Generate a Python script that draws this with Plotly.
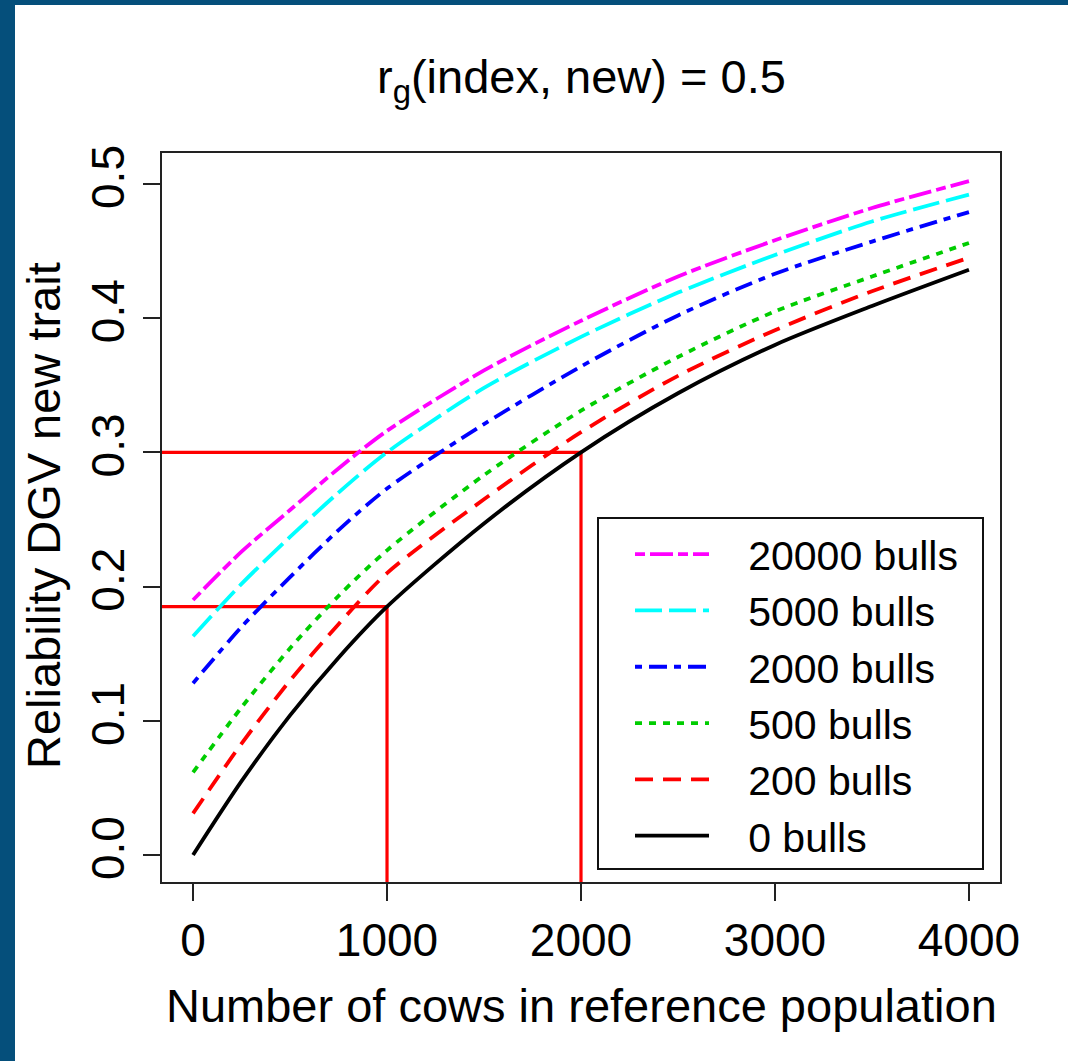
import plotly.graph_objects as go

# ---- data ----
cows = [0, 250, 500, 750, 1000, 1500, 2000, 2500, 3000, 3500, 4000]
rel_20000 = [0.190, 0.226, 0.257, 0.288, 0.316, 0.361, 0.398, 0.431, 0.458, 0.482, 0.502]
rel_5000 = [0.163, 0.202, 0.237, 0.270, 0.300, 0.348, 0.386, 0.419, 0.447, 0.472, 0.492]
rel_2000 = [0.128, 0.170, 0.207, 0.242, 0.273, 0.321, 0.364, 0.402, 0.433, 0.457, 0.479]
rel_500 = [0.0615, 0.110, 0.154, 0.193, 0.227, 0.283, 0.331, 0.371, 0.405, 0.431, 0.456]
rel_200 = [0.031, 0.083, 0.130, 0.172, 0.210, 0.265, 0.315, 0.357, 0.391, 0.420, 0.445]
rel_0 = [0.000, 0.055, 0.104, 0.147, 0.185, 0.247, 0.300, 0.344, 0.380, 0.409, 0.436]

series_names = ["20000 bulls", "5000 bulls", "2000 bulls", "500 bulls", "200 bulls", "0 bulls"]
series_values = [rel_20000, rel_5000, rel_2000, rel_500, rel_200, rel_0]
series_colors = ["#FF00FF", "#00FFFF", "#0000FF", "#00CD00", "#FF0000", "#000000"]
series_dash = ["10px,5px,23px,5px", "27px,7px", "7px,7px,18px,7px", "7px,7px", "18px,10px", "solid"]

# reference (red) guide lines
guide_y = [0.185, 0.3]
guide_x = [1000, 2000]

x_ticks = [0, 1000, 2000, 3000, 4000]
y_ticks = [0.0, 0.1, 0.2, 0.3, 0.4, 0.5]
x_range = [-160, 4160]
y_range = [-0.0201, 0.5230]

FONT = "Liberation Sans, Arial, sans-serif"
GAP = "\u00a0\u00a0\u00a0"

fig = go.Figure()

for gy, gx in zip(guide_y, guide_x):
    fig.add_trace(go.Scatter(
        x=[x_range[0] - 500, gx, gx], y=[gy, gy, y_range[0] - 0.1],
        mode="lines", line=dict(color="#FF0000", width=3.2),
        showlegend=False, hoverinfo="skip"))

for name, vals, col, dash in zip(series_names, series_values, series_colors, series_dash):
    fig.add_trace(go.Scatter(
        x=cows, y=vals, name=GAP + name, mode="lines",
        line=dict(color=col, width=3.8, dash=dash, shape="spline", smoothing=0.8)))

W, H = 1068, 1061
L, R, T, B = 162, 68, 153, 179
pw, ph = W - L - R, H - T - B

def px_x(p):
    return (p - L) / pw

def px_y(p):
    return (H - B - p) / ph

fig.update_layout(
    width=W, height=H,
    margin=dict(l=L, r=R, t=T, b=B),
    paper_bgcolor="white", plot_bgcolor="white",
    font=dict(family=FONT, color="black"),
    xaxis=dict(range=x_range, tickvals=x_ticks, ticks="outside", ticklen=17, tickwidth=1.5,
               tickcolor="#222", showline=True, mirror=True, linecolor="#222", linewidth=2,
               showgrid=False, zeroline=False, tickfont=dict(size=46, family=FONT),
               ticklabelstandoff=0),
    yaxis=dict(range=y_range, tickvals=y_ticks, tickformat=".1f", ticks="outside", ticklen=17,
               tickwidth=1.5, tickcolor="#222", showline=True, mirror=True, linecolor="#222",
               linewidth=2, showgrid=False, zeroline=False, tickangle=-90,
               tickfont=dict(size=46, family=FONT), ticklabelstandoff=1),
    legend=dict(x=px_x(630), y=px_y(521), xanchor="left", yanchor="top",
                bgcolor="rgba(0,0,0,0)", borderwidth=0,
                font=dict(size=41, family=FONT), itemwidth=74, tracegroupgap=0),
    showlegend=True,
    shapes=[
        dict(type="rect", xref="paper", yref="paper", x0=px_x(598), x1=px_x(983),
             y0=px_y(869), y1=px_y(518), fillcolor="white",
             line=dict(color="#111", width=2), layer="above"),
        dict(type="rect", xref="paper", yref="paper", x0=px_x(0), x1=px_x(15),
             y0=px_y(H), y1=px_y(0), fillcolor="#054F7B", line=dict(width=0), layer="above"),
        dict(type="rect", xref="paper", yref="paper", x0=px_x(0), x1=px_x(W),
             y0=px_y(5), y1=px_y(0), fillcolor="#054F7B", line=dict(width=0), layer="above"),
    ],
    annotations=[
        dict(text="r<sub>g</sub>(index, new) = 0.5", xref="paper", yref="paper",
             x=0.5, y=px_y(80), xanchor="center", yanchor="middle", showarrow=False,
             font=dict(size=47, family=FONT)),
        dict(text="Number of cows in reference population", xref="paper", yref="paper",
             x=0.5, y=px_y(1005), xanchor="center", yanchor="middle", showarrow=False,
             font=dict(size=47, family=FONT)),
        dict(text="Reliability DGV new trait", xref="paper", yref="paper",
             x=px_x(43), y=px_y(516), xanchor="center", yanchor="middle", showarrow=False,
             textangle=-90, font=dict(size=47, family=FONT)),
    ],
)

fig.write_html("out.html")
